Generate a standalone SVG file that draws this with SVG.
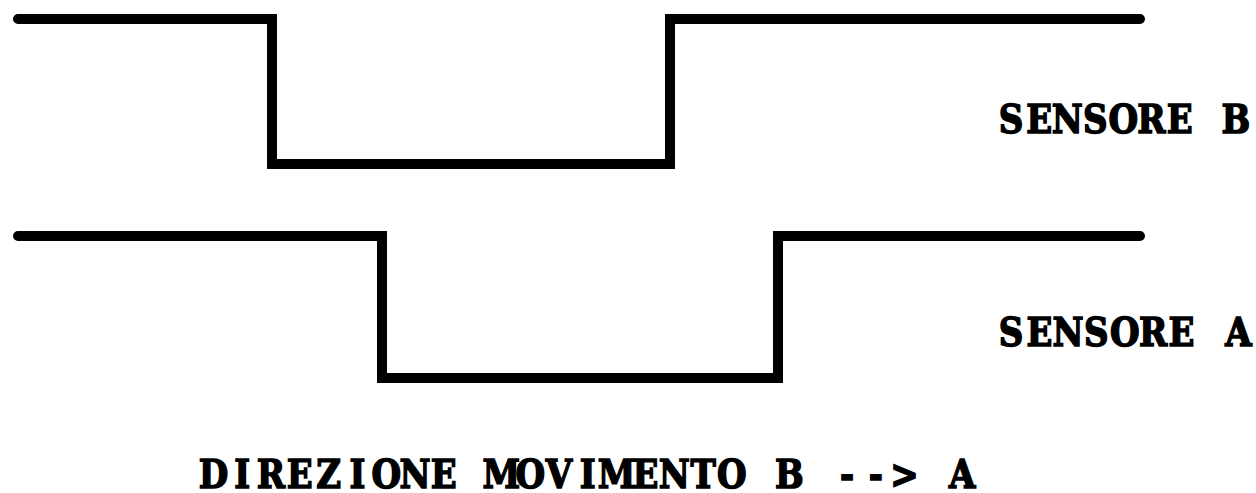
<svg xmlns="http://www.w3.org/2000/svg" width="1256" height="493" viewBox="0 0 1256 493">
<style>
.sig{fill:none;stroke:#000;stroke-width:10;stroke-linecap:round;stroke-linejoin:miter}
.lbl{font-family:"DejaVu Serif","Liberation Serif",serif;font-weight:bold;font-size:40px;fill:#000;stroke:#000;stroke-width:1.6;text-anchor:middle}
</style>
<rect width="1256" height="493" fill="#fff"/>
<g id="connectors">
<polyline id="signal-b" class="sig" points="18,19 272,19 272,164 670,164 670,19 1140,19"/>
<polyline id="signal-a" class="sig" points="18,236 382,236 382,378 778,378 778,236 1140,236"/>
</g>
<g id="label-b"><text class="lbl" transform="scale(0.85 1)" x="1189.4 1222.5 1255.5 1288.6 1321.6 1354.7 1387.8 1420.8 1453.9" y="133">SENSORE B</text></g>
<g id="label-a"><text class="lbl" transform="scale(0.85 1)" x="1189.6 1223.0 1256.4 1289.8 1323.3 1356.7 1390.1 1423.5 1456.9" y="346">SENSORE A</text></g>
<g id="caption"><text class="lbl" transform="scale(0.85 1)" x="251.1 284.9 318.8 352.7 386.6 420.5 454.4 488.2 522.1 556.0 589.9 623.8 657.6 691.5 725.4 759.3 793.2 827.1 860.9 894.8 928.7 962.6 996.5 1030.3 1064.2 1098.1 1132.0" y="488">DIREZIONE MOVIMENTO B --&gt; A</text></g>
</svg>
